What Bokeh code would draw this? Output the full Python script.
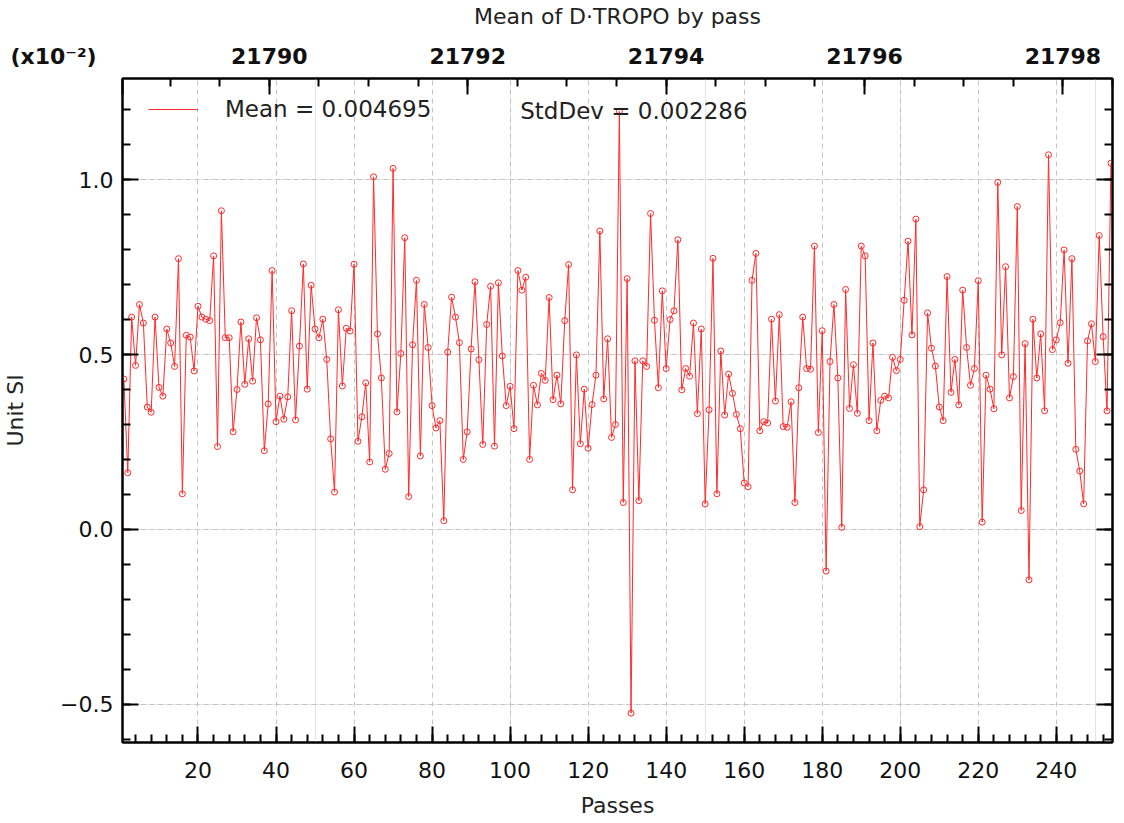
from bokeh.plotting import figure
from bokeh.models import (Range1d, LinearAxis, FixedTicker, CustomJSTickFormatter,
                          Label, Legend, LegendItem, Grid)
from bokeh.embed import file_html
from bokeh.resources import INLINE

# ---------------- data (values in units of 1e-2) ----------------
passes = list(range(1, 255))
mean_dtropo = [
    0.43, 0.162, 0.607, 0.469, 0.643, 0.59, 0.35, 0.335, 0.607, 0.406,
    0.381, 0.573, 0.533, 0.466, 0.774, 0.102, 0.555, 0.550, 0.453, 0.638,
    0.607, 0.601, 0.597, 0.782, 0.237, 0.911, 0.548, 0.548, 0.279, 0.40,
    0.593, 0.415, 0.545, 0.424, 0.605, 0.542, 0.225, 0.359, 0.740, 0.308,
    0.381, 0.315, 0.379, 0.625, 0.313, 0.524, 0.759, 0.401, 0.698, 0.573,
    0.548, 0.601, 0.486, 0.259, 0.107, 0.628, 0.410, 0.575, 0.567, 0.758,
    0.252, 0.322, 0.419, 0.193, 1.008, 0.559, 0.433, 0.172, 0.217, 1.032,
    0.336, 0.503, 0.834, 0.094, 0.528, 0.712, 0.210, 0.643, 0.520, 0.354,
    0.290, 0.311, 0.025, 0.507, 0.664, 0.607, 0.534, 0.200, 0.279, 0.516,
    0.708, 0.485, 0.243, 0.586, 0.695, 0.238, 0.705, 0.496, 0.354, 0.409,
    0.288, 0.740, 0.684, 0.721, 0.200, 0.412, 0.356, 0.446, 0.426, 0.663,
    0.371, 0.441, 0.359, 0.597, 0.757, 0.113, 0.499, 0.245, 0.401, 0.232,
    0.357, 0.441, 0.853, 0.373, 0.545, 0.263, 0.30, 1.195, 0.077, 0.717,
    -0.525, 0.482, 0.082, 0.482, 0.466, 0.903, 0.598, 0.405, 0.682, 0.460,
    0.600, 0.625, 0.828, 0.399, 0.460, 0.438, 0.590, 0.331, 0.573, 0.073,
    0.342, 0.775, 0.102, 0.510, 0.327, 0.444, 0.389, 0.329, 0.288, 0.133,
    0.122, 0.712, 0.789, 0.282, 0.308, 0.304, 0.601, 0.367, 0.614, 0.294,
    0.292, 0.365, 0.077, 0.405, 0.607, 0.460, 0.458, 0.810, 0.277, 0.568,
    -0.119, 0.480, 0.643, 0.433, 0.006, 0.686, 0.346, 0.471, 0.332, 0.810,
    0.782, 0.311, 0.533, 0.282, 0.369, 0.381, 0.376, 0.492, 0.454, 0.486,
    0.655, 0.824, 0.556, 0.887, 0.008, 0.113, 0.619, 0.518, 0.467, 0.350,
    0.311, 0.723, 0.392, 0.486, 0.356, 0.684, 0.520, 0.412, 0.460, 0.711,
    0.021, 0.441, 0.401, 0.345, 0.992, 0.499, 0.751, 0.376, 0.437, 0.923,
    0.054, 0.531, -0.144, 0.601, 0.433, 0.559, 0.339, 1.071, 0.514, 0.542,
    0.591, 0.799, 0.475, 0.774, 0.229, 0.167, 0.073, 0.539, 0.588, 0.480,
    0.840, 0.551, 0.339, 1.047,
]

pass_ticks = [20, 40, 60, 80, 100, 120, 140, 160, 180, 200, 220, 240]
pass_minor = list(range(4, 255, 4))
y_ticks = [-0.5, 0.0, 0.5, 1.0]
y_minor = [round(-0.6 + 0.1 * i, 1) for i in range(19)]
day_range = (21788.52, 21798.5)
day_ticks = [day_range[0], 21790, 21792, 21794, 21796, 21798]
day_minor = [21789.0 + 0.5 * i for i in range(20)]
pass_range = (0.65, 254.4)
value_range = (-0.609, 1.289)

title_text = "Mean of D\u00b7TROPO by pass"
mean_text = "Mean = 0.004695"
std_text = "StdDev = 0.002286"
scale_text = "(x10\u207b\u00b2)"
x_label = "Passes"
y_label = "Unit SI"

FONT = "DejaVu Sans"
RED = "#ff2a2a"
FS = "22px"

p = figure(frame_width=990, frame_height=664, output_backend="svg",
           toolbar_location=None,
           x_range=Range1d(*pass_range), y_range=Range1d(*value_range),
           x_axis_location=None, y_axis_location=None,
           min_border_left=114, min_border_right=4,
           min_border_top=60, min_border_bottom=60)
p.extra_x_ranges = {"days": Range1d(*day_range)}
p.outline_line_color = "black"
p.outline_line_width = 2
p.background_fill_color = "white"
p.border_fill_color = "white"


def style(ax):
    ax.axis_line_width = 2
    ax.axis_line_color = "black"
    ax.major_tick_in = 16
    ax.major_tick_out = 0
    ax.minor_tick_in = 8
    ax.minor_tick_out = 0
    ax.major_tick_line_width = 2
    ax.minor_tick_line_width = 2
    ax.major_tick_line_color = "black"
    ax.minor_tick_line_color = "black"
    ax.major_label_text_font = FONT
    ax.major_label_text_font_size = FS
    ax.major_label_text_color = "#111111"
    ax.axis_label_text_font = FONT
    ax.axis_label_text_font_style = "normal"
    ax.axis_label_text_font_size = FS
    ax.axis_label_text_color = "#222222"


yfmt = CustomJSTickFormatter(code="return tick.toFixed(1).replace('-', '\\u2212');")
blank = CustomJSTickFormatter(code="return '';")
# day labels every 2 days; the tick at the left end of the frame carries the
# scale note "(x10^-2)", padded so that it sits left of the frame
dayfmt = CustomJSTickFormatter(
    args=dict(note=scale_text, start=day_range[0]),
    code="""
if (Math.abs(tick - start) < 1e-6) {
    return note + '\\u00a0'.repeat(18);
}
return tick.toFixed(0);
""")

left = LinearAxis(ticker=FixedTicker(ticks=y_ticks, minor_ticks=y_minor),
                  formatter=yfmt, axis_label=y_label,
                  major_label_standoff=9, axis_label_standoff=29)
style(left)
p.add_layout(left, "left")

right = LinearAxis(ticker=FixedTicker(ticks=y_ticks, minor_ticks=y_minor),
                   formatter=blank, major_label_standoff=0)
style(right)
right.major_label_text_font_size = "1px"
p.add_layout(right, "right")

bottom = LinearAxis(ticker=FixedTicker(ticks=pass_ticks, minor_ticks=pass_minor),
                    axis_label=x_label, major_label_standoff=19,
                    axis_label_standoff=12)
style(bottom)
p.add_layout(bottom, "below")

top = LinearAxis(x_range_name="days",
                 ticker=FixedTicker(ticks=day_ticks, minor_ticks=day_minor),
                 formatter=dayfmt,
                 axis_label=title_text, major_label_standoff=10,
                 axis_label_standoff=12)
style(top)
top.major_label_text_font_style = "bold"
p.add_layout(top, "above")

p.add_layout(Grid(dimension=0, ticker=bottom.ticker, grid_line_color="#c4c4c4",
                  grid_line_dash="5 4", grid_line_width=1))
p.add_layout(Grid(dimension=1, ticker=left.ticker, grid_line_color="#c4c4c4",
                  grid_line_dash="5 4", grid_line_width=1))

line_r = p.line(passes, mean_dtropo, line_color=RED, line_width=1)
p.scatter(passes, mean_dtropo, marker="circle", size=6, line_color=RED,
          fill_color=None, line_width=1)

legend = Legend(items=[LegendItem(label=mean_text, renderers=[line_r])],
                location=(26, 620), glyph_width=50, glyph_height=20,
                label_standoff=27, padding=0, margin=0,
                border_line_color=None, background_fill_alpha=0,
                label_text_font=FONT, label_text_font_size="23px",
                label_text_color="#222222")
p.add_layout(legend)

p.add_layout(Label(x=102.6, y=1.197, text=std_text, text_baseline="middle",
                   text_font=FONT, text_font_size="23px", text_color="#222222"))

open("out.html", "w").write(file_html(p, INLINE))
